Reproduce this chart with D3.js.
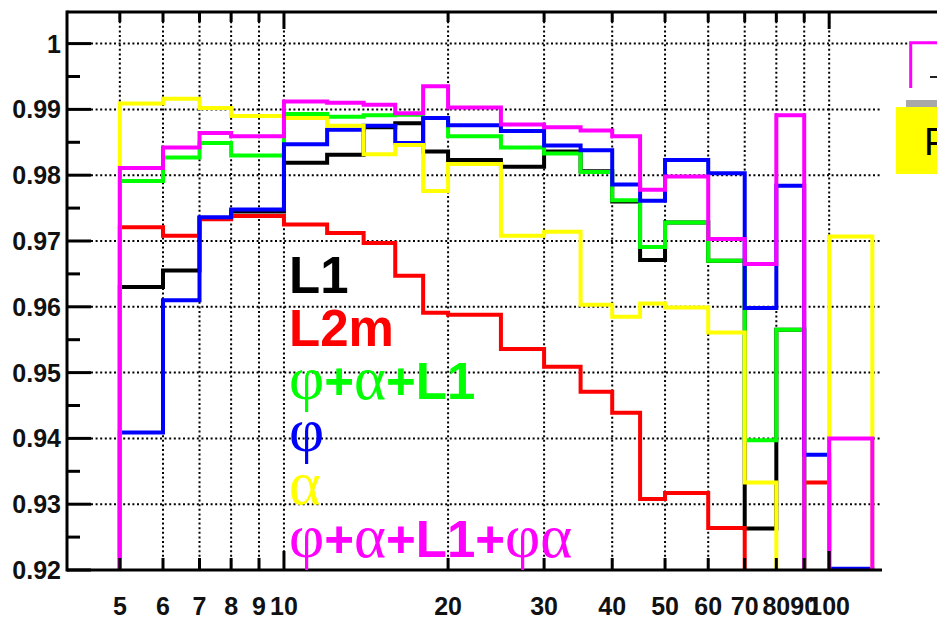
<!DOCTYPE html>
<html>
<head>
<meta charset="utf-8">
<script src="https://cdn.jsdelivr.net/npm/d3@7"></script>
<style>
  body { margin: 0; background: #fff; }
  svg { display: block; }
</style>
</head>
<body>
<svg id="chart" width="937" height="619"></svg>
<script>
// Bin edges of the efficiency histograms (log-spaced x axis)
const binEdges = [5, 6, 7, 8, 10, 12, 14, 16, 18, 20, 25, 30, 35, 40, 45, 50, 60, 70, 80, 90, 100, 120];

// Efficiency per bin for each selection (0 = empty bin, below the visible range)
const effL1      = [0.9630, 0.9655, 0.9735, 0.9745, 0.9819, 0.9831, 0.9873, 0.9879, 0.9836, 0.9823, 0.9813, 0.9836, 0.9806, 0.9760, 0.9671, 0.9728, 0.9670, 0.9263, 0.9565, 0, 0];
const effL2m     = [0.9721, 0.9708, 0.9733, 0.9738, 0.9725, 0.9712, 0.9697, 0.9647, 0.9591, 0.9588, 0.9536, 0.9509, 0.9471, 0.9439, 0.9308, 0.9317, 0.9264, 0, 0, 0.9333, 0];
const effPhiAlL1 = [0.9791, 0.9827, 0.9849, 0.9830, 0.9893, 0.9889, 0.9891, 0.9892, 0.9887, 0.9859, 0.9842, 0.9833, 0.9805, 0.9762, 0.9691, 0.9728, 0.9670, 0.9397, 0.9565, 0, 0];
const effPhi     = [0.9409, 0.9610, 0.9736, 0.9748, 0.9847, 0.9869, 0.9875, 0.9849, 0.9887, 0.9876, 0.9867, 0.9845, 0.9838, 0.9786, 0.9761, 0.9823, 0.9803, 0.9598, 0.9784, 0.9375, 0.9202];
const effAlpha   = [0.9909, 0.9916, 0.9902, 0.9890, 0.9887, 0.9875, 0.9832, 0.9846, 0.9776, 0.9817, 0.9708, 0.9714, 0.9603, 0.9585, 0.9605, 0.9599, 0.9561, 0.9333, 0, 0, 0.9707];
const effAll     = [0.9811, 0.9842, 0.9864, 0.9859, 0.9912, 0.9910, 0.9907, 0.9894, 0.9935, 0.9903, 0.9877, 0.9873, 0.9868, 0.9859, 0.9778, 0.9798, 0.9703, 0.9665, 0.9891, 0, 0.9400];

const seriesNames  = ["L1", "L2m", "φ+α+L1", "φ", "α", "φ+α+L1+φα"];
const seriesColors = ["#000000", "#ff0000", "#00ff00", "#0000ff", "#ffff00", "#ff00ff"];
const seriesValues = [effL1, effL2m, effPhiAlL1, effPhi, effAlpha, effAll];

// Axis ticks
const xTickValues = [5, 6, 7, 8, 9, 10, 20, 30, 40, 50, 60, 70, 80, 90, 100];
const yTickValues = [0.92, 0.93, 0.94, 0.95, 0.96, 0.97, 0.98, 0.99, 1];
const yMinorValues = [0.925, 0.935, 0.945, 0.955, 0.965, 0.975, 0.985, 0.995];

const W = 937, H = 619;
const frame = { left: 67, top: 12, right: 882, bottom: 570 };

const svg = d3.select("#chart");

const x = d3.scaleLog().domain([4, 125]).range([frame.left, frame.right]);
const y = d3.scaleLinear().domain([0.92, 1.0048]).range([frame.bottom, frame.top]);

const sans = "'Liberation Sans', Arial, Helvetica, sans-serif";
const serif = "'Liberation Serif', 'Times New Roman', serif";

svg.append("defs").append("clipPath").attr("id", "plotClip")
  .append("rect")
  .attr("x", frame.left).attr("y", frame.top)
  .attr("width", frame.right - frame.left).attr("height", frame.bottom - frame.top);

// --- dotted grid ---
const grid = svg.append("g")
  .attr("stroke", "#000").attr("stroke-width", 2)
  .attr("stroke-dasharray", "2 2.6").attr("fill", "none");

grid.selectAll("line.vg").data(xTickValues).join("line")
  .attr("class", "vg")
  .attr("x1", d => x(d)).attr("x2", d => x(d))
  .attr("y1", frame.top).attr("y2", frame.bottom);

grid.selectAll("line.hg").data(yTickValues.filter(d => d > 0.92)).join("line")
  .attr("class", "hg")
  .attr("x1", frame.left + 24)
  .attr("x2", d => d === 1 ? 910 : frame.right)
  .attr("y1", d => y(d)).attr("y2", d => y(d));

// --- histograms ---
function stepPoints(values) {
  const base = 0;
  const pts = [[binEdges[0], base]];
  values.forEach((v, i) => {
    pts.push([binEdges[i], v]);
    pts.push([binEdges[i + 1], v]);
  });
  pts.push([binEdges[binEdges.length - 1], base]);
  return pts;
}

const line = d3.line().x(d => x(d[0])).y(d => y(d[1]));

const hists = svg.append("g").attr("clip-path", "url(#plotClip)");
seriesValues.forEach((vals, i) => {
  hists.append("path")
    .attr("d", line(stepPoints(vals)))
    .attr("fill", "none")
    .attr("stroke", seriesColors[i])
    .attr("stroke-width", 4)
    .attr("stroke-linejoin", "miter")
    .attr("stroke-linecap", "square");
});

// --- axes frame ---
const axes = svg.append("g").attr("stroke", "#000").attr("fill", "none");
axes.append("line").attr("x1", frame.left).attr("x2", W)
  .attr("y1", frame.top).attr("y2", frame.top).attr("stroke-width", 3);
axes.append("line").attr("x1", frame.left).attr("x2", frame.left)
  .attr("y1", frame.top - 1.5).attr("y2", frame.bottom + 1.5).attr("stroke-width", 3);
axes.append("line").attr("x1", frame.left).attr("x2", frame.right)
  .attr("y1", frame.bottom).attr("y2", frame.bottom).attr("stroke-width", 3);

// y ticks
axes.selectAll("line.yt").data(yTickValues).join("line")
  .attr("class", "yt")
  .attr("x1", frame.left).attr("x2", frame.left + 24)
  .attr("y1", d => y(d)).attr("y2", d => y(d)).attr("stroke-width", 3);
axes.selectAll("line.ym").data(yMinorValues).join("line")
  .attr("class", "ym")
  .attr("x1", frame.left).attr("x2", frame.left + 13)
  .attr("y1", d => y(d)).attr("y2", d => y(d)).attr("stroke-width", 3);

// x ticks, bottom and top
const tickLen = d => (d === 10 || d === 100) ? 19 : 12;
axes.selectAll("line.xb").data(xTickValues).join("line")
  .attr("class", "xb")
  .attr("x1", d => x(d)).attr("x2", d => x(d))
  .attr("y1", frame.bottom).attr("y2", d => frame.bottom - tickLen(d)).attr("stroke-width", 3);
axes.selectAll("line.xt").data(xTickValues).join("line")
  .attr("class", "xt")
  .attr("x1", d => x(d)).attr("x2", d => x(d))
  .attr("y1", frame.top).attr("y2", d => frame.top + tickLen(d) - 2).attr("stroke-width", 3);

// tick labels
const yFmt = d => d === 1 ? "1" : d3.format(".2f")(d);
svg.append("g").selectAll("text").data(yTickValues).join("text")
  .attr("x", 61).attr("y", d => y(d) + 9)
  .attr("text-anchor", "end")
  .attr("font-family", sans).attr("font-size", 25).attr("font-weight", "bold")
  .attr("fill", "#111")
  .text(yFmt);

svg.append("g").selectAll("text").data(xTickValues).join("text")
  .attr("x", d => x(d)).attr("y", 615)
  .attr("text-anchor", "middle")
  .attr("font-family", sans).attr("font-size", 25).attr("font-weight", "bold")
  .attr("fill", "#111")
  .text(d => d);

// --- in-plot legend text ---
const isGreek = ch => /[\u0370-\u03ff]/.test(ch);
const legend = svg.append("g");
seriesNames.forEach((name, i) => {
  const t = legend.append("text")
    .attr("x", 289).attr("y", 293.3 + i * 52.7)
    .attr("fill", seriesColors[i]);
  // split into runs of greek / latin characters
  const runs = [];
  for (const ch of name) {
    const g = isGreek(ch);
    if (runs.length && runs[runs.length - 1].g === g) runs[runs.length - 1].s += ch;
    else runs.push({ g, s: ch });
  }
  runs.forEach(r => {
    t.append("tspan")
      .attr("font-family", r.g ? serif : sans)
      .attr("font-weight", r.g ? "normal" : "bold")
      .attr("font-size", r.g ? 61 : 51)
      .text(r.s);
  });
});

// --- legend panels at the right edge ---
const side = svg.append("g");
side.append("path")
  .attr("d", d3.line()([[910.7, 88], [910.7, 42.7], [940, 42.7]]))
  .attr("fill", "none").attr("stroke", "#ff00ff").attr("stroke-width", 3);
side.append("line").attr("x1", 930).attr("x2", 940).attr("y1", 77).attr("y2", 77)
  .attr("stroke", "#222").attr("stroke-width", 2);
side.append("rect").attr("x", 906).attr("y", 100).attr("width", 40).attr("height", 7)
  .attr("fill", "#a8a8a8");
side.append("rect").attr("x", 896).attr("y", 107).attr("width", 50).attr("height", 67)
  .attr("fill", "#ffff00");
side.append("text").attr("x", 924).attr("y", 155)
  .attr("font-family", sans).attr("font-size", 38).attr("fill", "#000")
  .text("P");
</script>
</body>
</html>
